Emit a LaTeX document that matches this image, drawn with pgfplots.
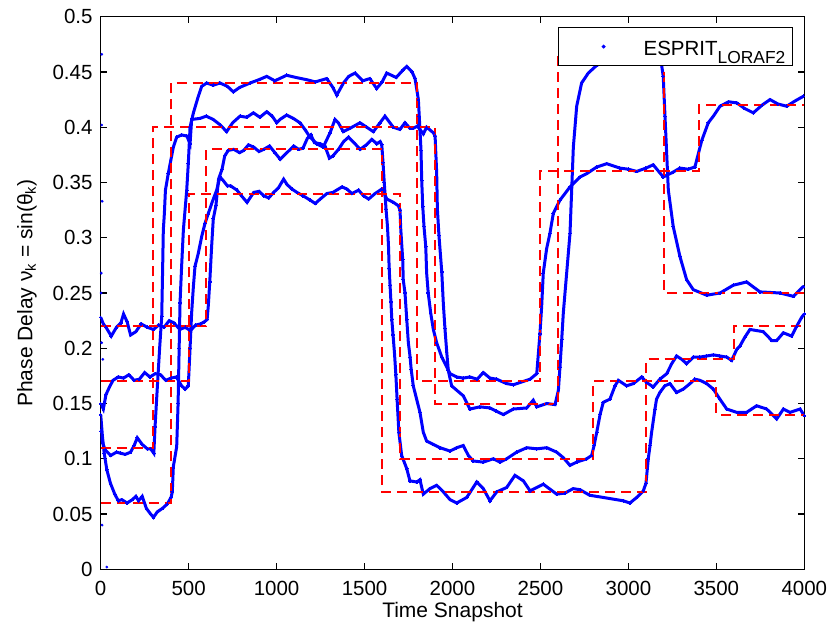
\documentclass[border=0pt]{standalone}
\usepackage{pgfplots}
\pgfplotsset{compat=1.18}
\usepackage{fontspec}
\setmainfont{Liberation Sans}
\definecolor{mblue}{RGB}{0,0,255}
\definecolor{mred}{RGB}{255,0,0}

\begin{document}
\begin{tikzpicture}[font=\fontsize{20.5bp}{24bp}\selectfont]
\begin{axis}[
    scale only axis,
    width=703.6bp, height=552.6bp,
    xmin=0, xmax=4000, ymin=0, ymax=0.5,
    xtick={0,500,...,4000},
    xticklabels={0,500,1000,1500,2000,2500,3000,3500,4000},
    ytick={0,0.05,0.1,0.15,0.2,0.25,0.3,0.35,0.4,0.45,0.5},
    yticklabels={0,0.05,0.1,0.15,0.2,0.25,0.3,0.35,0.4,0.45,0.5},
    /pgf/number format/assume math mode=true,
    tick align=inside,
    major tick length=6bp,
    axis line style={line width=1.3bp},
    every tick/.style={black, line width=1.1bp},
    xticklabel style={inner sep=0pt, yshift=-12bp},
    yticklabel style={inner sep=0pt, xshift=-8bp},
    xlabel={Time Snapshot},
    ylabel={Phase Delay ν\textsubscript{k} = sin(θ\textsubscript{k})},
    xlabel style={at={(axis description cs:0.5,-0.06)}, anchor=north, inner sep=0pt, font=\fontsize{21bp}{24bp}\selectfont},
    ylabel style={at={(axis description cs:-0.0905,0.5)}, anchor=south, inner sep=0pt, font=\fontsize{21bp}{24bp}\selectfont},
    legend cell align=left,
    legend style={at={(0.9839,0.9814)}, anchor=north east, draw=black, line width=1.2bp,
        fill=white, inner xsep=7bp, inner ysep=8.25bp,
        nodes={inner sep=0pt}},
    legend image code/.code={
        \path[draw=none, fill=none] (-8bp,-2bp) rectangle (70bp,2bp);
        \draw[#1] plot coordinates {(30bp,0bp)};
    },
    track/.style={color=mblue, line width=3bp, mark=*, mark size=1.3bp, mark options={line width=0pt}, forget plot},
    truth/.style={color=mred, line width=2bp, dash pattern=on 10bp off 6bp, forget plot},
]
\addlegendimage{only marks, mark=*, mark size=1.3bp, mblue}
\addlegendentry{\rule{0pt}{20bp}ESPRIT\raisebox{-7.5bp}{\fontsize{17.4bp}{18bp}\selectfont LORAF2}}

% estimated tracks
\addplot[track] coordinates {
(0,0.228) (15,0.222) (30,0.219) (60,0.211) (90,0.219) (115,0.223) (130,0.231) (150,0.224) (170,0.212) (200,0.215)
(230,0.222) (265,0.219) (300,0.217) (330,0.221) (360,0.219) (390,0.225) (416,0.223) (450,0.217) (480,0.219) (510,0.216)
(540,0.221) (567,0.222) (590,0.224) (605,0.226) (612,0.239) (620,0.260) (631,0.293) (640,0.317) (655,0.329) (670,0.353)
(690,0.362) (705,0.374) (725,0.379) (756,0.380) (790,0.377) (813,0.379) (840,0.384) (870,0.382) (900,0.378) (927,0.380)
(960,0.383) (990,0.377) (1021,0.371) (1059,0.377) (1097,0.383) (1125,0.380) (1150,0.381) (1175,0.390) (1195,0.393) (1215,0.386)
(1248,0.385) (1275,0.383) (1300,0.372) (1320,0.374) (1352,0.380) (1381,0.387) (1409,0.391) (1440,0.386) (1475,0.380) (1510,0.384)
(1541,0.389) (1570,0.385) (1589,0.387) (1598,0.384) (1605,0.368) (1612,0.350) (1622,0.326) (1630,0.311) (1636,0.293) (1640,0.272)
(1645,0.257) (1650,0.242) (1655,0.226) (1662,0.212) (1670,0.196) (1678,0.176) (1685,0.154) (1695,0.124) (1711,0.103) (1740,0.091)
(1758,0.080) (1797,0.079) (1815,0.081) (1834,0.068) (1872,0.073) (1910,0.076) (1948,0.070) (1986,0.063) (2024,0.060) (2081,0.065)
(2138,0.079) (2175,0.073) (2213,0.062) (2251,0.070) (2308,0.074) (2355,0.085) (2403,0.080) (2441,0.071) (2516,0.077) (2550,0.073)
(2592,0.068) (2640,0.069) (2686,0.073) (2725,0.072) (2780,0.067) (2857,0.065) (2933,0.063) (2970,0.062) (3009,0.060) (3047,0.065)
(3085,0.071) (3100,0.078) (3113,0.100) (3123,0.112) (3132,0.124) (3151,0.145) (3160,0.154) (3179,0.160) (3207,0.166) (3236,0.168)
(3274,0.160) (3312,0.163) (3350,0.168) (3378,0.172) (3407,0.171) (3445,0.168) (3483,0.163) (3520,0.154) (3559,0.145) (3616,0.142)
(3672,0.142) (3729,0.148) (3786,0.145) (3843,0.136) (3881,0.145) (3919,0.142) (3976,0.145) (4000,0.139)
};
\addplot[track] coordinates {
(0,0.150) (15,0.145) (30,0.158) (50,0.165) (70,0.171) (100,0.174) (130,0.173) (160,0.176) (190,0.171) (220,0.172)
(250,0.178) (280,0.174) (310,0.177) (340,0.176) (370,0.171) (400,0.173) (430,0.174) (460,0.166) (480,0.163) (498,0.166)
(508,0.200) (517,0.232) (527,0.256) (536,0.274) (555,0.286) (574,0.301) (593,0.313) (612,0.322) (631,0.331) (659,0.343)
(678,0.355) (695,0.352) (720,0.347) (738,0.347) (775,0.343) (800,0.338) (832,0.332) (870,0.341) (900,0.342) (927,0.338)
(955,0.336) (983,0.341) (1010,0.345) (1040,0.353) (1060,0.348) (1088,0.344) (1116,0.341) (1150,0.338) (1191,0.334) (1220,0.331)
(1248,0.335) (1286,0.340) (1320,0.341) (1372,0.346) (1400,0.344) (1428,0.340) (1466,0.343) (1494,0.338) (1523,0.335) (1560,0.340)
(1598,0.344) (1627,0.335) (1664,0.332) (1692,0.329) (1702,0.325) (1705,0.310) (1711,0.295) (1717,0.280) (1720,0.262) (1730,0.250)
(1740,0.226) (1749,0.205) (1759,0.192) (1765,0.181) (1777,0.166) (1796,0.154) (1815,0.142) (1834,0.124) (1853,0.116) (1891,0.113)
(1929,0.110) (1986,0.107) (2024,0.110) (2061,0.112) (2090,0.103) (2118,0.098) (2175,0.097) (2232,0.100) (2270,0.097) (2308,0.100)
(2365,0.106) (2422,0.110) (2479,0.109) (2536,0.110) (2592,0.106) (2630,0.101) (2668,0.094) (2706,0.097) (2763,0.100) (2791,0.103)
(2805,0.112) (2820,0.124) (2839,0.140) (2857,0.151) (2895,0.154) (2924,0.166) (2943,0.171) (2990,0.166) (3028,0.168) (3076,0.174)
(3104,0.169) (3141,0.165) (3179,0.172) (3218,0.177) (3246,0.186) (3274,0.193) (3303,0.190) (3331,0.186) (3369,0.192) (3407,0.192)
(3445,0.193) (3483,0.194) (3520,0.193) (3559,0.192) (3587,0.189) (3616,0.199) (3634,0.202) (3662,0.210) (3691,0.217) (3729,0.216)
(3767,0.215) (3815,0.207) (3843,0.207) (3881,0.214) (3928,0.211) (3957,0.220) (3985,0.228) (4000,0.231)
};
\addplot[track] coordinates {
(0,0.125) (10,0.115) (25,0.108) (57,0.103) (90,0.106) (113,0.105) (140,0.104) (170,0.106) (190,0.112) (208,0.119)
(236,0.113) (265,0.109) (284,0.109) (302,0.105) (309,0.129) (322,0.165) (335,0.200) (347,0.229) (352,0.271) (356,0.307)
(362,0.322) (368,0.343) (384,0.358) (413,0.382) (432,0.391) (460,0.393) (490,0.392) (508,0.385) (517,0.407) (565,0.408)
(600,0.410) (640,0.407) (680,0.402) (716,0.396) (750,0.404) (792,0.410) (830,0.409) (868,0.413) (905,0.409) (944,0.414)
(975,0.410) (1001,0.404) (1019,0.407) (1057,0.411) (1095,0.408) (1133,0.404) (1161,0.398) (1190,0.391) (1228,0.385) (1265,0.382)
(1304,0.395) (1332,0.407) (1351,0.404) (1379,0.396) (1417,0.399) (1474,0.404) (1512,0.400) (1550,0.396) (1588,0.404) (1616,0.410)
(1663,0.400) (1701,0.398) (1730,0.404) (1758,0.399) (1777,0.399) (1800,0.401) (1834,0.394) (1853,0.400) (1891,0.395) (1901,0.392)
(1910,0.359) (1914,0.326) (1923,0.302) (1939,0.269) (1948,0.240) (1957,0.218) (1967,0.197) (1976,0.180) (1995,0.166) (2024,0.162)
(2061,0.157) (2099,0.145) (2156,0.147) (2213,0.146) (2250,0.143) (2289,0.140) (2346,0.145) (2422,0.146) (2459,0.153) (2479,0.147)
(2536,0.150) (2583,0.149) (2602,0.162) (2611,0.183) (2621,0.208) (2630,0.232) (2649,0.268) (2668,0.304) (2687,0.382) (2706,0.419)
(2734,0.440) (2772,0.449) (2820,0.456) (2900,0.462) (3000,0.466) (3100,0.468) (3180,0.466) (3198,0.446) (3208,0.410) (3227,0.343)
(3255,0.310) (3293,0.283) (3331,0.262) (3369,0.253) (3445,0.248) (3521,0.250) (3596,0.257) (3672,0.260) (3748,0.251) (3862,0.250)
(3938,0.247) (3995,0.256)
};
\addplot[track] coordinates {
(0,0.140) (10,0.120) (20,0.105) (35,0.090) (55,0.078) (80,0.068) (100,0.062) (120,0.063) (150,0.060) (180,0.063)
(200,0.066) (215,0.062) (236,0.066) (260,0.055) (284,0.050) (300,0.047) (322,0.052) (350,0.055) (378,0.059) (400,0.065)
(407,0.070) (413,0.093) (432,0.111) (440,0.150) (446,0.200) (451,0.241) (460,0.274) (470,0.307) (489,0.343) (498,0.367)
(508,0.400) (527,0.413) (555,0.428) (574,0.437) (603,0.440) (640,0.438) (678,0.440) (720,0.437) (754,0.432) (790,0.436)
(849,0.440) (900,0.443) (944,0.446) (990,0.442) (1057,0.447) (1110,0.445) (1171,0.443) (1220,0.441) (1285,0.444) (1320,0.436)
(1342,0.429) (1380,0.440) (1410,0.446) (1446,0.449) (1490,0.442) (1530,0.444) (1569,0.435) (1600,0.441) (1626,0.449) (1680,0.445)
(1720,0.452) (1740,0.455) (1770,0.450) (1787,0.444) (1806,0.425) (1811,0.410) (1821,0.379) (1825,0.352) (1831,0.328) (1838,0.310)
(1848,0.292) (1853,0.268) (1862,0.250) (1876,0.232) (1891,0.217) (1910,0.205) (1939,0.192) (1986,0.177) (2024,0.174) (2061,0.173)
(2099,0.174) (2140,0.172) (2175,0.178) (2213,0.173) (2251,0.172) (2308,0.168) (2346,0.167) (2384,0.169) (2441,0.172) (2479,0.177)
(2497,0.213) (2507,0.238) (2516,0.268) (2535,0.290) (2554,0.304) (2573,0.322) (2611,0.334) (2668,0.346) (2725,0.355) (2763,0.358)
(2820,0.364) (2877,0.367) (2952,0.363) (3000,0.362) (3047,0.360) (3100,0.363) (3141,0.366) (3198,0.355) (3250,0.359) (3293,0.363)
(3340,0.362) (3378,0.364) (3417,0.388) (3454,0.404) (3483,0.410) (3521,0.419) (3570,0.423) (3616,0.422) (3660,0.417) (3710,0.413)
(3760,0.420) (3805,0.425) (3850,0.421) (3900,0.419) (3950,0.424) (3995,0.428)
};
% first snapshots before the estimates settle
\addplot[color=mblue, only marks, mark=*, mark size=1.2bp, forget plot] coordinates {
(6,0.466) (6,0.402) (8,0.333) (3,0.268) (3,0.250) (5,0.205) (12,0.190) (8,0.040) (35,0.002)
};

% true phase delays, as steps
\addplot[truth] coordinates {(0,0.22) (600,0.22) (600,0.38) (1600,0.38) (1600,0.07) (3100,0.07) (3100,0.19) (3600,0.19) (3600,0.22) (4000,0.22)};
\addplot[truth] coordinates {(0,0.17) (500,0.17) (500,0.34) (1700,0.34) (1700,0.10) (2800,0.10) (2800,0.17) (3500,0.17) (3500,0.14) (4000,0.14)};
\addplot[truth] coordinates {(0,0.11) (300,0.11) (300,0.40) (1900,0.40) (1900,0.15) (2600,0.15) (2600,0.47) (3200,0.47) (3200,0.25) (4000,0.25)};
\addplot[truth] coordinates {(0,0.06) (400,0.06) (400,0.44) (1800,0.44) (1800,0.17) (2500,0.17) (2500,0.36) (3400,0.36) (3400,0.42) (4000,0.42)};
\end{axis}
\pgfresetboundingbox
\path (-100.7bp,-60.7bp) rectangle (729.3bp,569.3bp);
\end{tikzpicture}
\end{document}
